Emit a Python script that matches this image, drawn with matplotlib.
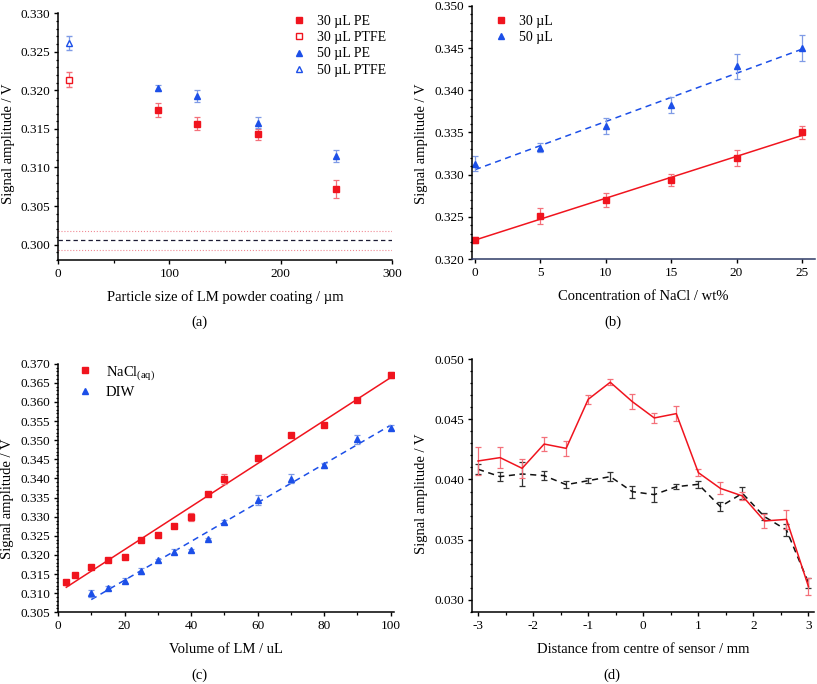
import numpy as np
import matplotlib
matplotlib.use("Agg")
import matplotlib.pyplot as plt
from matplotlib.ticker import MultipleLocator, FormatStrFormatter

plt.rcParams['font.family'] = ['Liberation Serif', 'DejaVu Serif']
plt.rcParams['mathtext.fontset'] = 'custom'
plt.rcParams['mathtext.rm'] = 'Liberation Serif'
plt.rcParams['mathtext.it'] = 'Liberation Serif:italic'
plt.rcParams['axes.unicode_minus'] = False

# ---------------- data (a) ----------------
a_pe_x = [90, 125, 180, 250]
a_30pe_y = [0.3175, 0.3157, 0.3143, 0.3072]
a_30pe_err = [0.0009, 0.0008, 0.0007, 0.0012]
a_50pe_y = [0.3203, 0.3193, 0.3158, 0.3115]
a_50pe_err = [0.0004, 0.0008, 0.0007, 0.0008]
a_ptfe_x = [10]
a_30ptfe_y = [0.3214]
a_30ptfe_err = [0.0010]
a_50ptfe_y = [0.3261]
a_50ptfe_err = [0.0009]
a_base = 0.30056
a_base_hi = 0.30178
a_base_lo = 0.29935

# ---------------- data (b) ----------------
b_x = [0, 5, 10, 15, 20, 25]
b_30_y = [0.32225, 0.3251, 0.3270, 0.32933, 0.33198, 0.33502]
b_30_err = [0.0003, 0.0009, 0.0008, 0.0007, 0.0010, 0.0008]
b_50_y = [0.3313, 0.3332, 0.33577, 0.33826, 0.34285, 0.34502]
b_50_err = [0.0009, 0.0005, 0.0010, 0.0010, 0.0015, 0.0015]

# ---------------- data (c) ----------------
c_nacl_x = [2.5, 5, 10, 15, 20, 25, 30, 35, 40, 45, 50, 60, 70, 80, 90, 100]
c_nacl_y = [0.31284, 0.31475, 0.31693, 0.31876, 0.31955, 0.32382, 0.32521, 0.32756,
            0.3300, 0.33593, 0.33985, 0.34525, 0.35127, 0.35405, 0.36041, 0.36704]
c_nacl_err = [0.0007, 0.0003, 0.0003, 0.0003, 0.0003, 0.0003, 0.0003, 0.0003,
              0.0010, 0.0006, 0.0012, 0.0006, 0.0003, 0.0003, 0.0003, 0.0008]
c_diw_x = [10, 15, 20, 25, 30, 35, 40, 45, 50, 60, 70, 80, 90, 100]
c_diw_y = [0.30996, 0.31136, 0.31327, 0.31571, 0.31859, 0.32085, 0.3212, 0.32425,
           0.32861, 0.33436, 0.33994, 0.34342, 0.35022, 0.35327]
c_diw_err = [0.0010, 0.0006, 0.0007, 0.0008, 0.0004, 0.0006, 0.0004, 0.0003,
             0.0004, 0.0012, 0.0012, 0.0006, 0.0012, 0.0007]

# ---------------- data (d) ----------------
d_x = [-3.0, -2.6, -2.2, -1.8, -1.4, -1.0, -0.6, -0.2, 0.2, 0.6, 1.0, 1.4, 1.8, 2.2, 2.6, 3.0]
d_red_y = [0.04154, 0.04182, 0.04093, 0.04295, 0.04259, 0.04667, 0.04809, 0.04648,
           0.04512, 0.04548, 0.04057, 0.03926, 0.03863, 0.03655, 0.03668, 0.03108]
d_red_err = [0.0012, 0.0009, 0.0008, 0.00055, 0.0006, 0.00035, 0.00025, 0.0006,
             0.0004, 0.0006, 0.0003, 0.0005, 0.0003, 0.0006, 0.0008, 0.0007]
d_blk_y = [0.04085, 0.04024, 0.04046, 0.04032, 0.03957, 0.0399, 0.04024, 0.03899,
           0.03874, 0.0394, 0.0396, 0.03774, 0.03885, 0.03691, 0.0358, 0.0314]
d_blk_err = [0.0004, 0.0004, 0.0010, 0.0004, 0.0003, 0.0002, 0.0004, 0.0005,
             0.0006, 0.0002, 0.0003, 0.0004, 0.0005, 0.0003, 0.0005, 0.0004]

RED = '#f0141e'
RED_E = '#f4707a'
BLUE = '#1c4fe8'
BLUE_E = '#7f9be6'

W, H = 817, 684
fig = plt.figure(figsize=(W / 100, H / 100), dpi=100)

def axes_px(l, t, r, b):
    return fig.add_axes([l / W, (H - b) / H, (r - l) / W, (b - t) / H])

TICK_FS = 9.5
LAB_FS = 10.5

def style(ax):
    for s in ['top', 'right']:
        ax.spines[s].set_visible(False)
    for s in ['left', 'bottom']:
        ax.spines[s].set_linewidth(1.1)
    ax.tick_params(which='major', direction='out', length=3.2, width=1.0,
                   labelsize=TICK_FS, pad=2.5)
    ax.tick_params(which='minor', direction='out', length=1.8, width=0.9)

def ekw(c):
    return dict(ecolor=c, elinewidth=0.9, capsize=2.2, capthick=0.9)

# ---------------- (a) ----------------
ax = axes_px(58, 13.3, 392, 260)
style(ax)
ax.axhline(a_base_hi, color='#f08a94', lw=0.8, ls=':')
ax.axhline(a_base_lo, color='#f08a94', lw=0.8, ls=':')
ax.axhline(a_base, color='#1a1a33', lw=0.9, ls=(0, (3.5, 2.5)))
ax.errorbar(a_pe_x, a_30pe_y, yerr=a_30pe_err, fmt='s', color=RED, ms=4.2,
            label='30 µL PE', **ekw(RED_E))
ax.errorbar(a_ptfe_x, a_30ptfe_y, yerr=a_30ptfe_err, fmt='s', mfc='white', mec=RED,
            mew=1.0, ms=4.0, label='30 µL PTFE', **ekw(RED_E))
ax.errorbar(a_pe_x, a_50pe_y, yerr=a_50pe_err, fmt='^', color=BLUE, ms=4.4,
            label='50 µL PE', **ekw(BLUE_E))
ax.errorbar(a_ptfe_x, a_50ptfe_y, yerr=a_50ptfe_err, fmt='^', mfc='white', mec=BLUE,
            mew=1.0, ms=4.4, label='50 µL PTFE', **ekw(BLUE_E))
ax.set_xlim(0, 300)
ax.set_ylim(0.298, 0.330)
ax.xaxis.set_major_locator(MultipleLocator(100))
ax.xaxis.set_minor_locator(MultipleLocator(50))
ax.yaxis.set_major_locator(MultipleLocator(0.005))
ax.yaxis.set_minor_locator(MultipleLocator(0.001))
ax.yaxis.set_major_formatter(FormatStrFormatter('%.3f'))
ax.set_xlabel('Particle size of LM powder coating / µm', fontsize=LAB_FS, va='center')
ax.xaxis.set_label_coords(0.5, -(296.7 - 260) / 246.7)
ax.set_ylabel('Signal amplitude / V', fontsize=LAB_FS, va='center')
ax.yaxis.set_label_coords(-(58 - 8.5) / 334, 0.47)
h, l = ax.get_legend_handles_labels()
h = [x[0] for x in h]
ax.legend(h, l, loc='upper left', bbox_to_anchor=(0.70, 0.995), frameon=False,
          fontsize=10, handlelength=1.0, handletextpad=0.8, borderpad=0,
          borderaxespad=0, labelspacing=0.25, numpoints=1)

# ---------------- (b) ----------------
ax = axes_px(472, 6, 815, 259)
style(ax)
ax.spines['bottom'].set_color('#2d3a66')
p30 = np.polyfit(b_x, b_30_y, 1)
p50 = np.polyfit(b_x, b_50_y, 1)
xx = np.array([min(b_x), max(b_x)])
ax.plot(xx, np.polyval(p30, xx), color=RED, lw=1.1)
ax.plot(xx, np.polyval(p50, xx), color=BLUE, lw=1.1, ls=(0, (4, 3)))
ax.errorbar(b_x, b_30_y, yerr=b_30_err, fmt='s', color=RED, ms=4.2, label='30 µL',
            **ekw(RED_E))
ax.errorbar(b_x, b_50_y, yerr=b_50_err, fmt='^', color=BLUE, ms=4.4, label='50 µL',
            **ekw(BLUE_E))
ax.set_xlim(-0.23, 26)
ax.set_ylim(0.320, 0.350)
ax.xaxis.set_major_locator(MultipleLocator(5))
ax.yaxis.set_major_locator(MultipleLocator(0.005))
ax.yaxis.set_minor_locator(MultipleLocator(0.001))
ax.yaxis.set_major_formatter(FormatStrFormatter('%.3f'))
ax.set_xlabel('Concentration of NaCl / wt%', fontsize=LAB_FS, va='center')
ax.xaxis.set_label_coords(0.5, -(296 - 259) / 253)
ax.set_ylabel('Signal amplitude / V', fontsize=LAB_FS, va='center')
ax.yaxis.set_label_coords(-(472 - 421.3) / 343, 0.456)
h, l = ax.get_legend_handles_labels()
h = [x[0] for x in h]
ax.legend(h, l, loc='upper left', bbox_to_anchor=(0.064, 0.965), frameon=False,
          fontsize=10, handlelength=1.0, handletextpad=0.8, borderpad=0,
          borderaxespad=0, labelspacing=0.22, numpoints=1)

# ---------------- (c) ----------------
ax = axes_px(58, 363.7, 394, 612.3)
style(ax)
pn = np.polyfit(c_nacl_x, c_nacl_y, 1)
pd_ = np.polyfit(c_diw_x, c_diw_y, 1)
xn = np.array([min(c_nacl_x), max(c_nacl_x)])
xd = np.array([min(c_diw_x), max(c_diw_x)])
ax.plot(xn, np.polyval(pn, xn), color=RED, lw=1.1)
ax.plot(xd, np.polyval(pd_, xd), color=BLUE, lw=1.1, ls=(0, (4, 3)))
ax.errorbar(c_nacl_x, c_nacl_y, yerr=c_nacl_err, fmt='s', color=RED, ms=4.2,
            label='NaCl$_{\\mathrm{(aq)}}$', **ekw(RED_E))
ax.errorbar(c_diw_x, c_diw_y, yerr=c_diw_err, fmt='^', color=BLUE, ms=4.4,
            label='DIW', **ekw(BLUE_E))
ax.set_xlim(0, 101)
ax.set_ylim(0.305, 0.370)
ax.xaxis.set_major_locator(MultipleLocator(20))
ax.xaxis.set_minor_locator(MultipleLocator(10))
ax.yaxis.set_major_locator(MultipleLocator(0.005))
ax.yaxis.set_minor_locator(MultipleLocator(0.001))
ax.yaxis.set_major_formatter(FormatStrFormatter('%.3f'))
ax.set_xlabel('Volume of LM / uL', fontsize=LAB_FS, va='center')
ax.xaxis.set_label_coords(0.5, -(649.3 - 612.3) / 248.6)
ax.set_ylabel('Signal amplitude / V', fontsize=LAB_FS, va='center')
ax.yaxis.set_label_coords(-(58 - 7.5) / 336, 0.459)
h, l = ax.get_legend_handles_labels()
h = [x[0] for x in h]
ax.legend(h, l, loc='upper left', bbox_to_anchor=(0.06, 1.0), frameon=False,
          fontsize=10.5, handlelength=1.0, handletextpad=0.9, borderpad=0,
          borderaxespad=0, labelspacing=0.3, numpoints=1)

# ---------------- (d) ----------------
ax = axes_px(472, 359.3, 814, 611.7)
style(ax)
ax.errorbar(d_x, d_blk_y, yerr=d_blk_err, fmt='none', **ekw('#333333'))
ax.plot(d_x, d_blk_y, color='#111111', lw=1.1, ls=(0, (4, 3)))
ax.errorbar(d_x, d_red_y, yerr=d_red_err, fmt='none', **ekw(RED_E))
ax.plot(d_x, d_red_y, color=RED, lw=1.1)
ax.set_xlim(-3.11, 3.1)
ax.set_ylim(0.029, 0.050)
ax.xaxis.set_major_locator(MultipleLocator(1))
ax.xaxis.set_minor_locator(MultipleLocator(0.5))
ax.yaxis.set_major_locator(MultipleLocator(0.005))
ax.yaxis.set_minor_locator(MultipleLocator(0.001))
ax.yaxis.set_major_formatter(FormatStrFormatter('%.3f'))
ax.set_xlabel('Distance from centre of sensor / mm', fontsize=LAB_FS, va='center')
ax.xaxis.set_label_coords(0.5, -(649.3 - 611.7) / 252.4)
ax.set_ylabel('Signal amplitude / V', fontsize=LAB_FS, va='center')
ax.yaxis.set_label_coords(-(472 - 421.3) / 342, 0.466)

# panel labels
for txt, px, py in [('(a)', 199, 322.7), ('(b)', 613, 322.7),
                    ('(c)', 199, 675), ('(d)', 612, 675)]:
    fig.text(px / W, 1 - py / H, txt, ha='center', va='center', fontsize=LAB_FS)

fig.savefig('out.png', dpi=100)
